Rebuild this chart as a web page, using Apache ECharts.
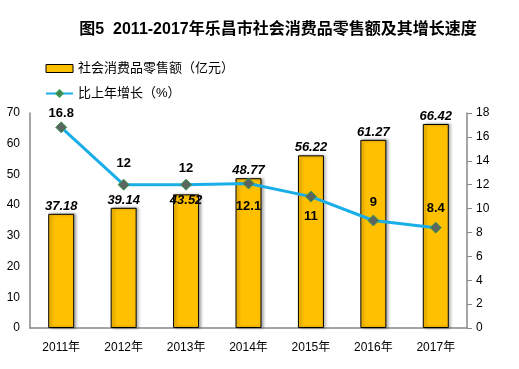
<!DOCTYPE html>
<html><head><meta charset="utf-8">
<script src="https://cdn.jsdelivr.net/npm/echarts@6/dist/echarts.min.js"></script>
<style>html,body{margin:0;padding:0;background:#fff}#c{width:519px;height:369px}</style>
</head><body><div id="c"></div>
<script>
const categories = ['2011年','2012年','2013年','2014年','2015年','2016年','2017年'];
const salesValues = [37.18, 39.14, 43.52, 48.77, 56.22, 61.27, 66.42];
const growthValues = [16.8, 12, 12, 12.1, 11, 9, 8.4];
const leftTicks = [0,10,20,30,40,50,60,70];
const rightTicks = [0,2,4,6,8,10,12,14,16,18];
// label placement styling
const growthLabelPos = ['top','top','top','bottom','bottom','top','top'];
const growthLabelDist = [1, 9, 4, 10, 7, 6, 7];
const salesLabelShift = [0, 0, 14, 0, 0, 0, 0];

const chart = echarts.init(document.getElementById('c'));
const font = '"Liberation Sans", "Noto Sans CJK SC", sans-serif';
chart.setOption({
  animation: false,
  title: {
    text: '图5  2011-2017年乐昌市社会消费品零售额及其增长速度',
    left: 273, top: 17, textAlign: 'center',
    textStyle: { fontSize: 16, fontWeight: 'bold', color: '#000', fontFamily: font }
  },
  legend: {
    orient: 'vertical', left: 40, top: 57, itemGap: 12,
    itemWidth: 27, itemHeight: 8,
    textStyle: { fontSize: 13, color: '#000', fontFamily: font },
    data: [
      { name: '社会消费品零售额（亿元）', icon: 'rect', itemStyle: { color: '#FFC000', borderColor: '#000', borderWidth: 1 } },
      { name: '比上年增长（%）' }
    ]
  },
  grid: { left: 30, right: 52, top: 113, bottom: 41 },
  xAxis: {
    type: 'category', data: categories,
    axisLine: { lineStyle: { color: '#888', width: 1.5 } },
    axisTick: { show: false },
    axisLabel: { color: '#000', fontSize: 12, margin: 14, fontFamily: font }
  },
  yAxis: [
    { type: 'value', min: 0, max: 70, interval: 10, position: 'left',
      axisLine: { show: true, lineStyle: { color: '#888', width: 1.5 } },
      axisTick: { show: false }, splitLine: { show: false },
      axisLabel: { color: '#000', fontSize: 12, margin: 10, fontFamily: font,
        formatter: v => leftTicks.includes(v) ? String(v) : '' } },
    { type: 'value', min: 0, max: 18, interval: 2, position: 'right',
      axisLine: { show: true, lineStyle: { color: '#888', width: 1.5 } },
      axisTick: { show: true, length: 5, lineStyle: { color: '#888' } }, splitLine: { show: false },
      axisLabel: { color: '#000', fontSize: 12, margin: 9, fontFamily: font,
        formatter: v => rightTicks.includes(v) ? String(v) : '' } }
  ],
  series: [
    { name: '社会消费品零售额（亿元）', type: 'bar', barWidth: 26,
      data: salesValues.map((v, i) => ({ value: v, label: { offset: [0, salesLabelShift[i]] } })),
      itemStyle: { color: '#FFC000', borderColor: '#000', borderWidth: 1,
        shadowColor: 'rgba(0,0,0,0.35)', shadowBlur: 3, shadowOffsetX: 2, shadowOffsetY: 0 },
      label: { show: true, position: 'top', distance: 1, color: '#000', fontSize: 13,
        fontStyle: 'italic', fontWeight: 'bold', fontFamily: font }
    },
    { name: '比上年增长（%）', type: 'line', yAxisIndex: 1,
      data: growthValues.map((v, i) => ({ value: v, label: { position: growthLabelPos[i], distance: growthLabelDist[i] } })),
      lineStyle: { color: '#1AAEE8', width: 3 },
      itemStyle: { color: '#5B6660', borderColor: '#3A9A50', borderWidth: 1 },
      symbol: 'diamond', symbolSize: 11,
      label: { show: true, color: '#000', fontSize: 13, fontWeight: 'bold', fontFamily: font }
    }
  ]
});
</script></body></html>
